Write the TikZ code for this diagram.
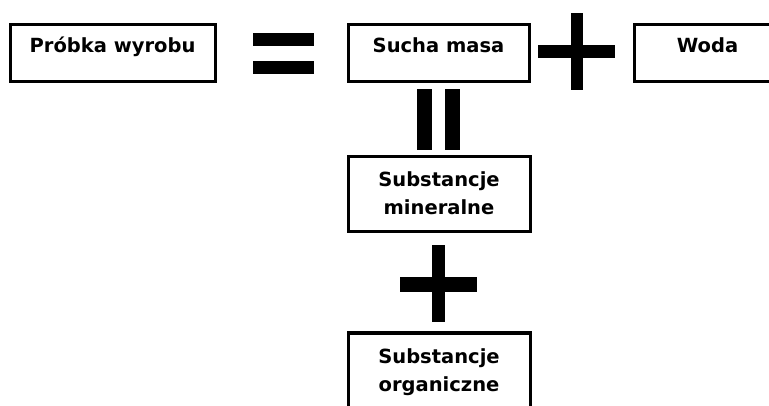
\documentclass[tikz,border=0pt]{standalone}
\usepackage{fontspec}
\setmainfont{DejaVu Sans}
\usepackage{tikz}
\tikzstyle{box} = [draw,line width=3pt,inner sep=0pt,align=center,anchor=base,font=\bfseries\fontsize{19.5}{28}\selectfont]

\begin{document}
\begin{tikzpicture}[x=1pt,y=-1pt]
	\useasboundingbox (0,0) rectangle (769,406);

	% Boxes:
	% Text sits at the top of each box, so height and depth are set by hand
	% (for two lines the base is the one of the last line)
	\node[box,minimum width=205pt,text height=28pt,text depth=29pt] (probka) at (112.5,53) {Próbka wyrobu};
	\node[box,minimum width=181pt,text height=28pt,text depth=29pt] (sucha) at (438.5,53) {Sucha masa};
	\node[box,minimum width=147pt,text height=28pt,text depth=29pt] (woda) at (707.5,53) {Woda};
	\node[box,minimum width=182pt,text height=58pt,text depth=17pt] (mineralne) at (439,215) {Substancje\\mineralne};
	\node[box,minimum width=182pt,text height=58pt,text depth=17pt] (organiczne) at (439,391) {Substancje\\organiczne};

	% Signs:
	% Are simply filled bars
	\fill (253,33) rectangle (314,46);  % =
	\fill (253,61) rectangle (314,74);
	\fill (538,45) rectangle (615,58);  % +
	\fill (571,13) rectangle (583,90);
	\fill (417,89) rectangle (432,150); % ||
	\fill (445,89) rectangle (460,150);
	\fill (400,277) rectangle (477,292); % +
	\fill (432,245) rectangle (445,322);
\end{tikzpicture}
\end{document}
